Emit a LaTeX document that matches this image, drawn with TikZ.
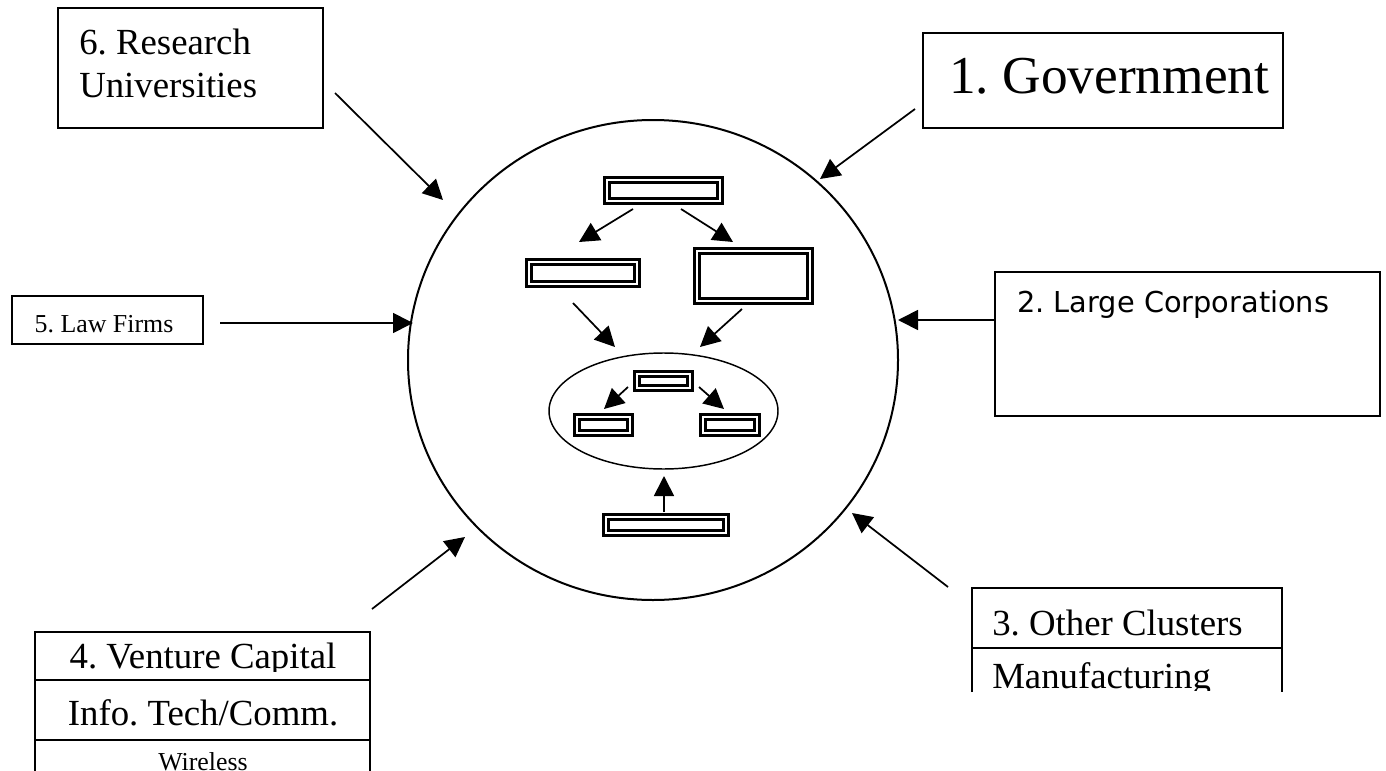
\documentclass[tikz,border=0pt]{standalone}
\usepackage{fontspec}
\setmainfont{Liberation Serif}
\newfontfamily\corpfont{DejaVu Sans}
\usetikzlibrary{arrows.meta,shapes.geometric}
\frenchspacing

\begin{document}
\begin{tikzpicture}[x=0.75pt,y=-0.75pt,
  conn/.style={line width=1.3pt,-{Triangle[length=15pt,width=15pt]}},
  frame/.style={draw,line width=1.25pt,inner sep=0pt},
  dbl/.style={draw,line width=2.5pt,double=white,double distance=1.3pt,inner sep=0pt},
  lbl/.style={inner sep=0pt,anchor=base west},
  big/.style={font=\fontsize{27.6}{33}\selectfont},
  small/.style={font=\fontsize{19.4}{23}\selectfont},
]
\useasboundingbox (0,0) rectangle (1386,771);

% central cluster ring
\node[draw,ellipse,line width=1.5pt,inner sep=0pt,minimum width=367.5pt,minimum height=360pt] (ring) at (653,360) {};

% surrounding institutions
\node[frame,minimum width=198.75pt,minimum height=90pt] (univ) at (190.5,68) {};
\node[lbl,big] (univA) at (79,55) {6. Research};
\node[lbl,big] (univB) at (79,97) {Universities};

\node[frame,minimum width=270pt,minimum height=71.25pt] (gov) at (1103,80.5) {};
\node[lbl,font=\fontsize{40}{48}\selectfont] (govT) at (949,93) {1. Government};

\node[frame,minimum width=143.25pt,minimum height=36pt] (law) at (107.5,320) {};
\node[inner sep=0pt,anchor=base,small] (lawT) at (104,332) {5. Law Firms};

\node[frame,minimum width=288.75pt,minimum height=108pt] (corp) at (1187.5,344) {};
\node[lbl,font=\corpfont\fontsize{21.6}{26}\selectfont] (corpT) at (1017,312) {2. Large Corporations};

% other clusters table (open at the bottom)
\draw[line width=1.25pt] (972,692) -- (972,588) -- (1282,588) -- (1282,692);
\draw[line width=1.25pt] (972,648) -- (1282,648);
\node[lbl,big] (othT) at (992,635) {3. Other Clusters};
\begin{scope}
  \clip (972,648) rectangle (1282,690);
  \node[lbl,big] (manT) at (992,688) {Manufacturing};
\end{scope}

% venture capital table (runs off the page)
\draw[line width=1.25pt] (35,775) -- (35,632) -- (370,632) -- (370,775);
\draw[line width=1.25pt] (35,680) -- (370,680);
\draw[line width=1.25pt] (35,740) -- (370,740);
\begin{scope}
  \clip (35,632) rectangle (370,671);
  \node[inner sep=0pt,anchor=base,big] (vcT) at (203,668) {4. Venture Capital};
\end{scope}
\node[inner sep=0pt,anchor=base,big] (itT) at (203,725) {Info. Tech/Comm.};
\begin{scope}
  \clip (35,740) rectangle (370,771);
  \node[inner sep=0pt,anchor=base,small] (wlT) at (203,770) {Wireless};
\end{scope}

% arrows into the ring
\coordinate (univS) at (335,93);  \coordinate (univE) at (443,200);
\coordinate (govS) at (915,109);  \coordinate (govE) at (820,179);
\coordinate (lawS) at (220,323);  \coordinate (lawE) at (413,323);
\coordinate (corpS) at (994,320); \coordinate (corpE) at (898,320);
\coordinate (othS) at (948,587);  \coordinate (othE) at (852,513);
\coordinate (vcS) at (372,609);   \coordinate (vcE) at (465,537);
\foreach \s/\e in {univS/univE,govS/govE,lawS/lawE,corpS/corpE,othS/othE,vcS/vcE}
  \draw[conn] (\s) -- (\e);

% firms inside the ring
\node[dbl,minimum width=84.5pt,minimum height=15.5pt] (top) at (663.5,190.5) {};
\node[dbl,minimum width=80.8pt,minimum height=16.3pt] (left) at (583,273) {};
\node[dbl,minimum width=84.5pt,minimum height=37.3pt] (right) at (753.5,276) {};
\node[draw,ellipse,line width=1.1pt,inner sep=0pt,minimum width=171.75pt,minimum height=87pt] (core) at (663.5,411) {};
\node[dbl,minimum width=39.5pt,minimum height=10.3pt] (ctop) at (663.5,381) {};
\node[dbl,minimum width=39.5pt,minimum height=11.8pt] (cleft) at (603.5,425) {};
\node[dbl,minimum width=40.3pt,minimum height=11.8pt] (cright) at (730,425) {};
\node[dbl,minimum width=89.8pt,minimum height=11.8pt] (base) at (666,525) {};

\coordinate (a1s) at (633,209); \coordinate (a1e) at (579,242);
\coordinate (a2s) at (681,209); \coordinate (a2e) at (733,242);
\coordinate (a3s) at (573,303); \coordinate (a3e) at (615,347);
\coordinate (a4s) at (742,309); \coordinate (a4e) at (700,347);
\coordinate (a5s) at (628,387); \coordinate (a5e) at (604,409);
\coordinate (a6s) at (699,387); \coordinate (a6e) at (724,409);
\coordinate (a7s) at (664,512); \coordinate (a7e) at (664,476);
\foreach \s/\e in {a1s/a1e,a2s/a2e,a3s/a3e,a4s/a4e,a5s/a5e,a6s/a6e,a7s/a7e}
  \draw[conn] (\s) -- (\e);
\end{tikzpicture}
\end{document}
